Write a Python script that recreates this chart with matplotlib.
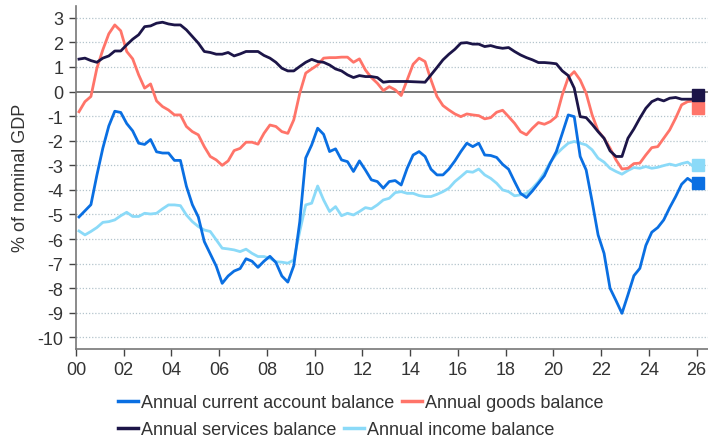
import matplotlib
matplotlib.use('Agg')
import matplotlib.pyplot as plt
from matplotlib.lines import Line2D
import numpy as np

plt.rcParams['font.family'] = ['Liberation Sans', 'DejaVu Sans']
plt.rcParams['axes.unicode_minus'] = False

# quarterly observations, 2000 Q1 .. 2025 Q4 (x = years since 2000, mid-quarter)
years = 0.125 + 0.25 * np.arange(104)

current_account = [
    -5.1, -4.85, -4.6, -3.4, -2.3, -1.4, -0.8, -0.85,
    -1.3, -1.6, -2.1, -2.15, -1.95, -2.45, -2.5, -2.5,
    -2.8, -2.8, -3.85, -4.6, -5.1, -6.1, -6.6, -7.1,
    -7.8, -7.5, -7.3, -7.2, -6.8, -6.9, -7.15, -6.9,
    -6.7, -6.95, -7.5, -7.75, -7.08, -5.3, -2.7, -2.17,
    -1.49, -1.74, -2.44, -2.33, -2.78, -2.85, -3.25, -2.82,
    -3.19, -3.59, -3.66, -3.93, -3.66, -3.62, -3.8, -3.12,
    -2.58, -2.44, -2.64, -3.16, -3.39, -3.39, -3.15, -2.82,
    -2.44, -2.1, -2.24, -2.1, -2.58, -2.6, -2.68, -2.96,
    -3.16, -3.66, -4.14, -4.31, -4.04, -3.73, -3.42, -2.9,
    -2.44, -1.7, -0.95, -1.02, -2.64, -3.19, -4.47, -5.83,
    -6.58, -8.0, -8.5, -9.02, -8.27, -7.49, -7.19, -6.26,
    -5.72, -5.53, -5.22, -4.72, -4.27, -3.77, -3.53, -3.7,
]
goods = [
    -0.82, -0.41, -0.2, 0.95, 1.7, 2.35, 2.71, 2.47,
    1.63, 1.33, 0.68, 0.14, 0.31, -0.38, -0.61, -0.75,
    -0.95, -0.95, -1.42, -1.63, -1.76, -2.24, -2.64, -2.78,
    -3.0, -2.82, -2.4, -2.31, -2.06, -2.06, -2.14, -1.7,
    -1.36, -1.42, -1.63, -1.7, -1.15, -0.07, 0.75, 0.92,
    1.08, 1.36, 1.38, 1.38, 1.4, 1.4, 1.19, 1.33,
    0.88, 0.57, 0.34, 0.04, 0.2, 0.07, -0.16, 0.47,
    1.11, 1.36, 1.22, 0.47, -0.2, -0.57, -0.75, -0.91,
    -1.02, -0.91, -0.95, -0.98, -1.11, -1.06, -0.84, -0.76,
    -1.02, -1.29, -1.63, -1.76, -1.49, -1.26, -1.33, -1.22,
    -1.02, -0.13, 0.57, 0.81, 0.47, -0.07, -0.95, -1.6,
    -1.9, -2.3, -2.78, -3.15, -3.12, -2.93, -2.91, -2.58,
    -2.28, -2.24, -1.9, -1.56, -1.08, -0.54, -0.41, -0.38,
]
services = [
    1.32, 1.36, 1.26, 1.19, 1.36, 1.45, 1.65, 1.65,
    1.9, 2.13, 2.31, 2.64, 2.67, 2.78, 2.82, 2.75,
    2.71, 2.71, 2.51, 2.24, 1.97, 1.63, 1.59, 1.52,
    1.52, 1.59, 1.45, 1.53, 1.63, 1.63, 1.63, 1.47,
    1.36, 1.19, 0.95, 0.84, 0.84, 1.02, 1.19, 1.31,
    1.22, 1.19, 1.08, 0.92, 0.84, 0.68, 0.57, 0.65,
    0.61, 0.61, 0.57, 0.38, 0.41, 0.41, 0.41, 0.41,
    0.40, 0.39, 0.38, 0.68, 0.98, 1.29, 1.52, 1.72,
    1.97, 1.99, 1.93, 1.93, 1.83, 1.87, 1.8, 1.76,
    1.79, 1.63, 1.49, 1.38, 1.29, 1.18, 1.18, 1.16,
    1.13, 0.84, 0.65, 0.14, -1.02, -1.06, -1.33, -1.63,
    -1.9, -2.41, -2.64, -2.64, -1.9, -1.52, -1.08, -0.68,
    -0.41, -0.3, -0.38, -0.27, -0.24, -0.31, -0.31, -0.31,
]
income = [
    -5.67, -5.83, -5.69, -5.53, -5.32, -5.29, -5.22, -5.05,
    -4.91, -5.08, -5.08, -4.95, -4.98, -4.95, -4.77, -4.61,
    -4.61, -4.64, -5.02, -5.29, -5.49, -5.63, -5.69, -6.03,
    -6.37, -6.4, -6.44, -6.51, -6.41, -6.58, -6.71, -6.71,
    -6.78, -6.92, -6.94, -6.98, -6.85, -5.69, -4.61, -4.54,
    -3.84, -4.41, -4.88, -4.68, -5.05, -4.95, -5.02, -4.88,
    -4.72, -4.77, -4.61, -4.41, -4.34, -4.11, -4.07, -4.14,
    -4.14, -4.23, -4.27, -4.27, -4.18, -4.07, -3.93, -3.66,
    -3.46, -3.25, -3.28, -3.15, -3.39, -3.53, -3.73, -4.0,
    -4.07, -4.24, -4.2, -4.14, -3.93, -3.66, -3.3, -2.87,
    -2.55, -2.31, -2.1, -2.03, -2.1, -2.17, -2.37, -2.71,
    -2.87, -3.12, -3.25, -3.36, -3.21, -3.09, -3.12, -3.05,
    -3.12, -3.08, -3.01, -2.95, -3.01, -2.93, -2.87, -3.05,
]

# end-of-series markers (latest readings, nudged apart as in the original)
marker_x = 26.08
marker_vals = {'current': -3.7, 'goods': -0.65, 'services': -0.13, 'income': -3.0}

labels = {
    'current': 'Annual current account balance',
    'goods': 'Annual goods balance',
    'services': 'Annual services balance',
    'income': 'Annual income balance',
}
colors = {
    'current': '#0A6FE2',
    'goods': '#FF7469',
    'services': '#1C1548',
    'income': '#8BDAF8',
}
series = {'current': current_account, 'goods': goods,
          'services': services, 'income': income}

tick_years = list(range(0, 27, 2))
tick_labels = ['%02d' % y for y in tick_years]

fig = plt.figure(figsize=(7.08, 4.39), dpi=100)
ax = fig.add_axes([76 / 708, 1 - 349.5 / 439, 1 - 76 / 708, (349.5 - 7) / 439])

for y in range(-10, 4):
    if y == 0:
        continue
    ax.axhline(y, color='#b4c4cc', lw=0.9, ls=(0, (1, 1.5)), zorder=1)
ax.axhline(0, color='#555555', lw=1.1, zorder=2)

for key in ['income', 'goods', 'services', 'current']:
    ax.plot(years, series[key], color=colors[key], lw=2.0, zorder=3,
            solid_joinstyle='round')
for key in marker_vals:
    ax.plot([marker_x], [marker_vals[key]], marker='s', ms=8.5, color=colors[key],
            ls='none', zorder=4, clip_on=False)

ax.set_xlim(0, 26.48)
ax.set_ylim(-10.45, 3.48)
ax.set_xticks(tick_years)
ax.set_xticklabels(tick_labels)
ax.set_yticks(range(-10, 4))
ax.tick_params(axis='both', labelsize=13, colors='#444444', length=5, width=1,
               direction='out')
ax.tick_params(axis='x', pad=4)
ax.tick_params(axis='y', pad=4)
for lab in ax.get_xticklabels() + ax.get_yticklabels():
    lab.set_color('#333333')

for s in ['top', 'right']:
    ax.spines[s].set_visible(False)
for s in ['left', 'bottom']:
    ax.spines[s].set_color('#777777')
    ax.spines[s].set_linewidth(1.2)

ax.set_ylabel('% of nominal GDP', fontsize=13, color='#333333', labelpad=6)

def make_handles(keys):
    return [Line2D([], [], color=colors[k], lw=2.5) for k in keys], [labels[k] for k in keys]

legend_kw = dict(frameon=False, ncol=2, fontsize=13, handlelength=1.1,
                 handletextpad=0.15, columnspacing=0.45, borderpad=0, borderaxespad=0,
                 labelcolor='#333333')
h1, l1 = make_handles(['current', 'goods'])
leg1 = fig.legend(h1, l1, loc='center left', bbox_to_anchor=(118 / 708, 1 - 404 / 439), **legend_kw)
h2, l2 = make_handles(['services', 'income'])
leg2 = fig.legend(h2, l2, loc='center left', bbox_to_anchor=(118 / 708, 1 - 431 / 439), **legend_kw)

fig.savefig('out.png', dpi=100)
